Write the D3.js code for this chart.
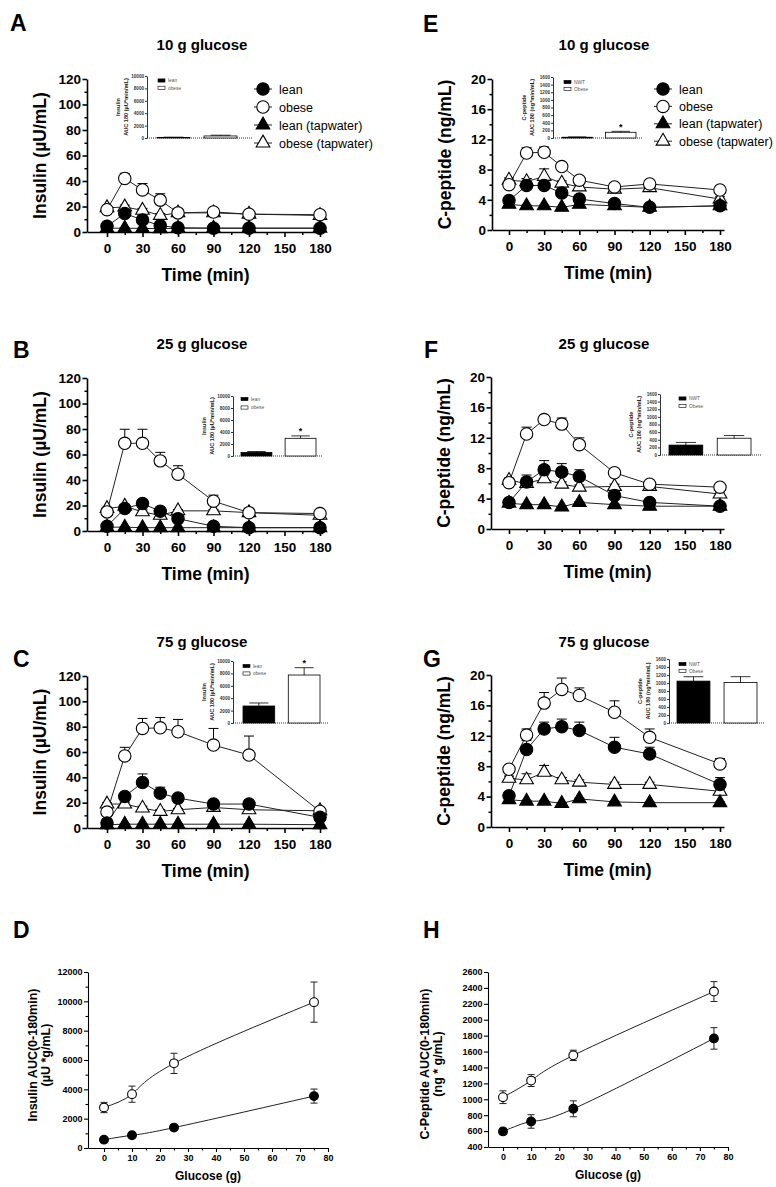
<!DOCTYPE html>
<html><head><meta charset="utf-8">
<script src="https://cdn.jsdelivr.net/npm/d3@7"></script>
<style>body{margin:0;background:#fff;} svg{display:block;}</style>
</head><body><svg id="c" width="776" height="1187"></svg>
<script>
// ---------- DATA ----------
const times = [0, 15, 30, 45, 60, 90, 120, 180];
const timeTicks = [0, 30, 60, 90, 120, 150, 180];
const timeMinorTicks = [15, 45, 75, 105, 135, 165];
const legendLabels = ["lean", "obese", "lean (tapwater)", "obese (tapwater)"];
const insulinInsetCats = ["lean", "obese"];
const cpepInsetCats = ["NWT", "Obese"];
const glucoseDoses = [0, 10, 25, 75];
const glucoseTicks = [0, 10, 20, 30, 40, 50, 60, 70, 80];

// A: insulin, 10 g
const insA_lean = [4.5, 14.5, 9.5, 5.0, 3.3, 3.0, 3.0, 3.0];
const insA_leanErr = [0.8, 2.0, 2.0, 1.0, 0.5, 0.5, 0.5, 0.5];
const insA_obese = [17.5, 42, 33, 25, 15, 15.7, 14, 13.6];
const insA_obeseErr = [2, 4, 5, 5, 2, 2, 1.5, 1.5];
const insA_leanTap = [3, 3, 2.8, 2.6, 3, 3, 3, 3];
const insA_leanTapErr = [0.3, 0.3, 0.3, 0.3, 0.3, 0.3, 0.3, 0.3];
const insA_obeseTap = [19, 19.6, 17, 13, 15, 15, 14, 13];
const insA_obeseTapErr = [1, 1.5, 1.5, 1.5, 1, 1, 1, 1];
const insA_auc = [100, 330];
const insA_aucErr = [30, 120];

// B: insulin, 25 g
const insB_lean = [3.7, 17.6, 21.5, 15.5, 9.7, 3.7, 2.6, 2.6];
const insB_leanErr = [1, 3, 3, 2, 2, 1, 0.5, 0.5];
const insB_obese = [15, 68.8, 68.8, 55, 44.6, 23.4, 14.4, 13.7];
const insB_obeseErr = [2, 11, 11, 6.7, 6.6, 4.7, 1.5, 1.5];
const insB_leanTap = [3, 3, 2.6, 2.6, 2.6, 2.6, 2.6, 2.6];
const insB_leanTapErr = [0.3, 0.3, 0.3, 0.3, 0.3, 0.3, 0.3, 0.3];
const insB_obeseTap = [17.6, 19.4, 15, 12.3, 15.8, 15.8, 14.4, 12.3];
const insB_obeseTapErr = [1, 1.5, 1.5, 1.5, 1, 1, 1, 1];
const insB_auc = [600, 2950];
const insB_aucErr = [150, 400];

// C: insulin, 75 g
const insC_lean = [3.9, 24.9, 35.9, 27.5, 23.6, 18.9, 18.9, 8.4];
const insC_leanErr = [1, 2.5, 6.8, 4.7, 2, 2, 2, 1.5];
const insC_obese = [12.6, 56.9, 78.6, 79.1, 76, 65.5, 57.6, 13.1];
const insC_obeseErr = [2, 6.8, 7.9, 8.1, 9.7, 13.1, 15, 2];
const insC_leanTap = [2.6, 3, 3, 3, 3, 3, 3, 2.6];
const insC_leanTapErr = [0.3, 0.3, 0.3, 0.3, 0.3, 0.3, 0.3, 0.3];
const insC_obeseTap = [18.9, 18.9, 15.7, 13.1, 14.4, 16.2, 14.4, 13.6];
const insC_obeseTapErr = [1, 1.5, 1.5, 1.5, 1, 1, 1, 1];
const insC_auc = [2740, 7740];
const insC_aucErr = [490, 1180];

// E: C-peptide, 10 g
const cpE_lean = [3.9, 5.9, 5.9, 4.9, 4.1, 3.5, 3.0, 3.2];
const cpE_leanErr = [0.3, 0.9, 0.7, 0.4, 0.3, 0.3, 0.2, 0.2];
const cpE_obese = [6.0, 10.2, 10.3, 8.4, 6.6, 5.7, 6.1, 5.3];
const cpE_obeseErr = [0.4, 0.7, 0.7, 0.4, 0.4, 0.3, 0.3, 0.3];
const cpE_leanTap = [3.4, 3.2, 3.2, 3.0, 3.4, 3.2, 3.0, 3.2];
const cpE_leanTapErr = [0.1, 0.1, 0.1, 0.1, 0.1, 0.1, 0.1, 0.1];
const cpE_obeseTap = [6.6, 6.4, 7.1, 6.2, 5.7, 5.4, 5.6, 4.1];
const cpE_obeseTapErr = [0.3, 0.4, 1.0, 0.3, 0.3, 0.3, 0.3, 0.3];
const cpE_auc = [20, 150];
const cpE_aucErr = [8, 25];

// F: C-peptide, 25 g
const cpF_lean = [3.5, 6.2, 7.8, 7.5, 6.9, 4.4, 3.5, 3.0];
const cpF_leanErr = [0.3, 0.9, 1.2, 1.1, 0.9, 0.4, 0.3, 0.2];
const cpF_obese = [6.1, 12.5, 14.4, 13.8, 11.1, 7.4, 5.9, 5.5];
const cpF_obeseErr = [0.3, 0.9, 0.3, 0.8, 0.9, 0.3, 0.3, 0.3];
const cpF_leanTap = [3.4, 3.2, 3.2, 2.9, 3.5, 3.2, 3.0, 3.0];
const cpF_leanTapErr = [0.1, 0.1, 0.1, 0.1, 0.1, 0.1, 0.1, 0.1];
const cpF_obeseTap = [6.4, 6.0, 6.6, 5.9, 5.5, 5.6, 5.6, 4.6];
const cpF_obeseTapErr = [0.3, 0.4, 0.5, 0.3, 0.3, 0.3, 0.3, 0.3];
const cpF_auc = [260, 440];
const cpF_aucErr = [70, 70];

// G: C-peptide, 75 g
const cpG_lean = [4.1, 10.2, 12.9, 13.2, 12.7, 10.5, 9.6, 5.6];
const cpG_leanErr = [0.3, 1.2, 0.9, 1.0, 1.1, 1.3, 0.9, 0.9];
const cpG_obese = [7.6, 12.1, 16.3, 18.1, 17.3, 15.1, 11.8, 8.3];
const cpG_obeseErr = [0.4, 0.8, 1.4, 1.5, 1.0, 1.5, 1.1, 0.7];
const cpG_leanTap = [3.6, 3.4, 3.4, 3.1, 3.7, 3.3, 3.2, 3.2];
const cpG_leanTapErr = [0.1, 0.1, 0.1, 0.1, 0.1, 0.1, 0.1, 0.1];
const cpG_obeseTap = [6.4, 6.2, 7.2, 6.2, 5.9, 5.6, 5.6, 4.7];
const cpG_obeseTapErr = [0.3, 0.8, 0.9, 0.3, 0.3, 0.3, 0.3, 0.3];
const cpG_auc = [1047, 1013];
const cpG_aucErr = [110, 145];

// D: insulin AUC vs glucose dose
const aucIns_lean = [570, 870, 1390, 3540];
const aucIns_leanErr = [100, 100, 100, 480];
const aucIns_obese = [2760, 3670, 5770, 9945];
const aucIns_obeseErr = [350, 550, 690, 1370];

// H: C-peptide AUC vs glucose dose
const aucCp_lean = [596, 721, 880, 1765];
const aucCp_leanErr = [40, 85, 100, 135];
const aucCp_obese = [1026, 1235, 1552, 2354];
const aucCp_obeseErr = [80, 75, 65, 125];

// ---------- DRAWING ----------
const FONT = "'Liberation Sans', Arial, Helvetica, sans-serif";
const svg = d3.select("#c").attr("font-family", FONT);
const intFmt = d3.format("d");

function styleAxis(sel, sw, fs, bold) {
  sel.attr("font-family", FONT).attr("font-size", fs);
  sel.select(".domain").attr("stroke", "#000").attr("stroke-width", sw);
  sel.selectAll(".tick line").attr("stroke", "#000").attr("stroke-width", sw);
  sel.selectAll(".tick text").attr("fill", "#000").attr("font-weight", bold ? "bold" : "normal");
}

function marker(g, type, cx, cy, r) {
  const filled = type[0] === "f";
  if (type[1] === "c") {
    g.append("circle").attr("cx", cx).attr("cy", cy).attr("r", r)
      .attr("fill", filled ? "#000" : "#fff").attr("stroke", "#000").attr("stroke-width", 1.1);
  } else {
    g.append("path").attr("d", d3.symbol().type(d3.symbolTriangle).size(r * r * 2.1)())
      .attr("transform", `translate(${cx},${cy})`)
      .attr("fill", filled ? "#000" : "#fff").attr("stroke", "#000").attr("stroke-width", 1.1);
  }
}

function letter(t, x, y) {
  svg.append("text").attr("x", x).attr("y", y).text(t)
    .attr("font-size", 23).attr("font-weight", "bold").attr("fill", "#000");
}

function inset(q) {
  const g = svg.append("g");
  const y = d3.scaleLinear().domain([0, q.max]).range([q.bottom, q.top]);
  const xb = d3.scaleBand().domain(q.cats).range([q.barL, q.barR]).paddingInner(0.3).paddingOuter(0);
  g.append("line").attr("x1", q.axisX).attr("x2", q.baseEnd).attr("y1", q.bottom).attr("y2", q.bottom)
    .attr("stroke", "#000").attr("stroke-width", 0.8).attr("stroke-dasharray", "1,1");
  q.cats.forEach((c, i) => {
    g.append("rect").attr("x", xb(c)).attr("width", xb.bandwidth())
      .attr("y", y(q.vals[i])).attr("height", y(0) - y(q.vals[i]))
      .attr("fill", i === 0 ? "#000" : "#fff").attr("stroke", "#000").attr("stroke-width", 0.8);
    const cx = xb(c) + xb.bandwidth() / 2, top = y(q.vals[i] + q.errs[i]);
    const cw = xb.bandwidth() * 0.3;
    g.append("line").attr("x1", cx).attr("x2", cx).attr("y1", y(q.vals[i])).attr("y2", top).attr("stroke", "#000").attr("stroke-width", 0.8);
    g.append("line").attr("x1", cx - cw).attr("x2", cx + cw).attr("y1", top).attr("y2", top).attr("stroke", "#000").attr("stroke-width", 0.8);
    if (i === 1 && q.star) {
      g.append("text").attr("x", cx).attr("y", top - 1.5).attr("text-anchor", "middle").text("*")
        .attr("font-size", 9).attr("font-weight", "bold");
    }
  });
  const ga = g.append("g").attr("transform", `translate(${q.axisX},0)`)
    .call(d3.axisLeft(y).tickValues(d3.range(0, q.max + 1, q.step)).tickFormat(intFmt).tickSize(2).tickPadding(1).tickSizeOuter(0));
  styleAxis(ga, 0.8, 4.6, true);
  ga.selectAll(".tick text").attr("fill", "#333");
  const cy = (q.top + q.bottom) / 2;
  [q.t1, q.t2].forEach((t, i) => {
    g.append("text").attr("transform", `translate(${q.axisX - 27 + i * 7.5},${cy}) rotate(-90)`)
      .attr("text-anchor", "middle").attr("font-size", 5.6).attr("font-weight", "bold").attr("fill", "#222").text(t);
  });
  q.cats.forEach((c, i) => {
    const ly = q.ly + i * q.ldy;
    g.append("rect").attr("x", q.lx).attr("y", ly - 1.6).attr("width", 7).attr("height", 3.2)
      .attr("fill", i === 0 ? "#000" : "#fff").attr("stroke", "#000").attr("stroke-width", 0.6);
    g.append("text").attr("x", q.lx + 10).attr("y", ly + 1.7).attr("font-size", 4.8).attr("fill", "#555").text(c);
  });
}

function timePanel(p) {
  const g = svg.append("g");
  const x = d3.scaleLinear().domain([0, 180]).range([p.x0, p.x180]);
  const xEnd = p.x180 + 4;
  const xa = d3.scaleLinear().domain([x.invert(p.axisX), x.invert(xEnd)]).range([p.axisX, xEnd]);
  const y = d3.scaleLinear().domain([0, p.yMax]).range([p.y0, p.yTop]);

  const mx = g.append("g").attr("transform", `translate(0,${p.y0})`)
    .call(d3.axisBottom(xa).tickValues(timeMinorTicks).tickSize(3).tickFormat(""));
  mx.select(".domain").remove();
  mx.selectAll("line").attr("stroke", "#000").attr("stroke-width", 1.5);
  const my = g.append("g").attr("transform", `translate(${p.axisX},0)`)
    .call(d3.axisLeft(y).tickValues(d3.range(p.yStep / 2, p.yMax, p.yStep)).tickSize(2.5).tickFormat(""));
  my.select(".domain").remove();
  my.selectAll("line").attr("stroke", "#000").attr("stroke-width", 1.5);

  const gx = g.append("g").attr("transform", `translate(0,${p.y0})`)
    .call(d3.axisBottom(xa).tickValues(timeTicks).tickSize(5).tickPadding(6).tickSizeOuter(0));
  styleAxis(gx, 1.6, 13.5, true);
  const gy = g.append("g").attr("transform", `translate(${p.axisX},0)`)
    .call(d3.axisLeft(y).tickValues(d3.range(0, p.yMax + 1e-9, p.yStep)).tickFormat(intFmt).tickSize(4.5).tickPadding(1.5).tickSizeOuter(0));
  styleAxis(gy, 1.6, 13.5, true);

  g.append("text").attr("x", p.titleX).attr("y", p.titleY).attr("text-anchor", "middle")
    .attr("font-size", 15).attr("font-weight", "bold").text(p.title);
  g.append("text").attr("x", (p.axisX + xEnd) / 2).attr("y", p.y0 + 49).attr("text-anchor", "middle")
    .attr("font-size", 17.5).attr("font-weight", "bold").text("Time (min)");
  g.append("text").attr("transform", `translate(${p.axisX - 41},${(p.y0 + p.yTop) / 2}) rotate(-90)`)
    .attr("text-anchor", "middle").attr("font-size", 17.5).attr("font-weight", "bold").text(p.ylabel);

  const line = d3.line().x((d, i) => x(times[i])).y(d => y(d));
  p.series.forEach(s => {
    g.append("path").datum(s.vals).attr("d", line).attr("fill", "none")
      .attr("stroke", "#222").attr("stroke-width", 1);
  });
  p.series.forEach(s => {
    s.vals.forEach((v, i) => {
      const e = s.err[i], cx = x(times[i]), t = y(v + e);
      g.append("line").attr("x1", cx).attr("x2", cx).attr("y1", y(v)).attr("y2", t).attr("stroke", "#000").attr("stroke-width", 1);
      g.append("line").attr("x1", cx - 5).attr("x2", cx + 5).attr("y1", t).attr("y2", t).attr("stroke", "#000").attr("stroke-width", 1);
    });
  });
  p.series.forEach(s => {
    s.vals.forEach((v, i) => marker(g, s.type, x(times[i]), y(v), 6.2));
  });

  if (p.legend) {
    const types = ["fc", "oc", "ft", "ot"];
    legendLabels.forEach((lab, i) => {
      const ly = p.legend.y + i * p.legend.dy;
      g.append("line").attr("x1", p.legend.x - 9).attr("x2", p.legend.x + 9).attr("y1", ly).attr("y2", ly)
        .attr("stroke", "#222").attr("stroke-width", 1);
      marker(g, types[i], p.legend.x, ly, 6.2);
      g.append("text").attr("x", p.legend.x + 16).attr("y", ly + 4.5).attr("font-size", 12.5).text(lab);
    });
  }
  inset(p.inset);
  letter(p.letter[0], p.letter[1], p.letter[2]);
}

function aucPanel(p) {
  const g = svg.append("g");
  const x = d3.scaleLinear().domain([0, 80]).range([p.x0, p.x80]);
  const xa = d3.scaleLinear().domain([x.invert(p.axisX), 80]).range([p.axisX, p.x80]);
  const y = d3.scaleLinear().domain([p.yMin, p.yMax]).range([p.y0, p.yTop]);

  const mx = g.append("g").attr("transform", `translate(0,${p.y0})`)
    .call(d3.axisBottom(xa).tickValues(d3.range(5, 80, 10)).tickSize(2.5).tickFormat(""));
  mx.select(".domain").remove();
  mx.selectAll("line").attr("stroke", "#000").attr("stroke-width", 1.1);
  if (p.yMinor) {
    const my = g.append("g").attr("transform", `translate(${p.axisX},0)`)
      .call(d3.axisLeft(y).tickValues(d3.range(p.yMin + p.yMinor, p.yMax, p.yStep)).tickSize(2.5).tickFormat(""));
    my.select(".domain").remove();
    my.selectAll("line").attr("stroke", "#000").attr("stroke-width", 1.1);
  }
  const gx = g.append("g").attr("transform", `translate(0,${p.y0})`)
    .call(d3.axisBottom(xa).tickValues(glucoseTicks).tickFormat(intFmt).tickSize(4).tickPadding(3).tickSizeOuter(0));
  styleAxis(gx, 1.1, 9, true);
  const gy = g.append("g").attr("transform", `translate(${p.axisX},0)`)
    .call(d3.axisLeft(y).tickValues(d3.range(p.yMin, p.yMax + 1e-9, p.yStep)).tickFormat(intFmt).tickSize(4).tickPadding(1.5).tickSizeOuter(0));
  styleAxis(gy, 1.1, 9, true);

  g.append("text").attr("x", (p.axisX + p.x80) / 2).attr("y", p.y0 + 32).attr("text-anchor", "middle")
    .attr("font-size", 12).attr("font-weight", "bold").text("Glucose (g)");
  [p.lab1, p.lab2].forEach((t, i) => {
    g.append("text").attr("transform", `translate(${p.labX[i]},${p.labY}) rotate(-90)`)
      .attr("text-anchor", "middle").attr("font-size", 12.5).attr("font-weight", "bold").text(t);
  });

  const line = d3.line().curve(d3.curveNatural).x((d, i) => x(glucoseDoses[i])).y(d => y(d));
  p.series.forEach(s => {
    g.append("path").datum(s.vals).attr("d", line).attr("fill", "none").attr("stroke", "#222").attr("stroke-width", 1);
  });
  p.series.forEach(s => {
    s.vals.forEach((v, i) => {
      const cx = x(glucoseDoses[i]), e = s.err[i];
      const t = y(v + e), b = y(v - e);
      g.append("line").attr("x1", cx).attr("x2", cx).attr("y1", b).attr("y2", t).attr("stroke", "#222").attr("stroke-width", 1);
      [t, b].forEach(yy => g.append("line").attr("x1", cx - 3.5).attr("x2", cx + 3.5).attr("y1", yy).attr("y2", yy).attr("stroke", "#222").attr("stroke-width", 1));
    });
  });
  p.series.forEach(s => {
    s.vals.forEach((v, i) => marker(g, s.type, x(glucoseDoses[i]), y(v), 4.4));
  });
  letter(p.letter[0], p.letter[1], p.letter[2]);
}

function series4(l, le, o, oe, lt, lte, ot, ote) {
  return [
    { vals: ot, err: ote, type: "ot" },
    { vals: lt, err: lte, type: "ft" },
    { vals: o, err: oe, type: "oc" },
    { vals: l, err: le, type: "fc" }
  ];
}

const insTitle1 = "Insulin", insTitle2 = "AUC 180 (µU*min/mL)";
const cpTitle1 = "C-peptide", cpTitle2 = "AUC 180 (ng*min/mL)";

timePanel({
  axisX: 87, x0: 107, x180: 320, y0: 232, yTop: 79, yMax: 120, yStep: 20,
  title: "10 g glucose", titleX: 202, titleY: 50, ylabel: "Insulin (µU/mL)",
  series: series4(insA_lean, insA_leanErr, insA_obese, insA_obeseErr, insA_leanTap, insA_leanTapErr, insA_obeseTap, insA_obeseTapErr),
  legend: { x: 263, y: 89, dy: 18 },
  inset: { axisX: 147, top: 76, bottom: 138, barL: 157, barR: 237, baseEnd: 253, max: 10000, step: 2000,
    cats: insulinInsetCats, vals: insA_auc, errs: insA_aucErr, star: false, lx: 158, ly: 80.5, ldy: 7.3, t1: insTitle1, t2: insTitle2 },
  letter: ["A", 10, 31]
});
timePanel({
  axisX: 87, x0: 107, x180: 320, y0: 531, yTop: 378, yMax: 120, yStep: 20,
  title: "25 g glucose", titleX: 202, titleY: 349, ylabel: "Insulin (µU/mL)",
  series: series4(insB_lean, insB_leanErr, insB_obese, insB_obeseErr, insB_leanTap, insB_leanTapErr, insB_obeseTap, insB_obeseTapErr),
  inset: { axisX: 233, top: 396, bottom: 456, barL: 241, barR: 316, baseEnd: 323, max: 10000, step: 2000,
    cats: insulinInsetCats, vals: insB_auc, errs: insB_aucErr, star: true, lx: 241, ly: 399, ldy: 8.5, t1: insTitle1, t2: insTitle2 },
  letter: ["B", 13, 358]
});
timePanel({
  axisX: 87, x0: 107, x180: 320, y0: 828, yTop: 676, yMax: 120, yStep: 20,
  title: "75 g glucose", titleX: 202, titleY: 647, ylabel: "Insulin (µU/mL)",
  series: series4(insC_lean, insC_leanErr, insC_obese, insC_obeseErr, insC_leanTap, insC_leanTapErr, insC_obeseTap, insC_obeseTapErr),
  inset: { axisX: 233, top: 661, bottom: 723, barL: 243, barR: 320, baseEnd: 328, max: 10000, step: 2000,
    cats: insulinInsetCats, vals: insC_auc, errs: insC_aucErr, star: true, lx: 243, ly: 666, ldy: 7.5, t1: insTitle1, t2: insTitle2 },
  letter: ["C", 13, 667]
});

timePanel({
  axisX: 492, x0: 509, x180: 720, y0: 230, yTop: 79, yMax: 20, yStep: 4,
  title: "10 g glucose", titleX: 604, titleY: 50, ylabel: "C-peptide (ng/mL)",
  series: series4(cpE_lean, cpE_leanErr, cpE_obese, cpE_obeseErr, cpE_leanTap, cpE_leanTapErr, cpE_obeseTap, cpE_obeseTapErr),
  legend: { x: 663, y: 89, dy: 17.4 },
  inset: { axisX: 553, top: 77, bottom: 138, barL: 562, barR: 636, baseEnd: 643, max: 1600, step: 200,
    cats: cpepInsetCats, vals: cpE_auc, errs: cpE_aucErr, star: true, lx: 564, ly: 82, ldy: 7, t1: cpTitle1, t2: cpTitle2 },
  letter: ["E", 423, 32]
});
timePanel({
  axisX: 491, x0: 509, x180: 720, y0: 529, yTop: 377, yMax: 20, yStep: 4,
  title: "25 g glucose", titleX: 604, titleY: 349, ylabel: "C-peptide (ng/mL)",
  series: series4(cpF_lean, cpF_leanErr, cpF_obese, cpF_obeseErr, cpF_leanTap, cpF_leanTapErr, cpF_obeseTap, cpF_obeseTapErr),
  inset: { axisX: 660, top: 394, bottom: 455, barL: 669, barR: 751, baseEnd: 761, max: 1600, step: 200,
    cats: cpepInsetCats, vals: cpF_auc, errs: cpF_aucErr, star: false, lx: 679, ly: 398.5, ldy: 7.5, t1: cpTitle1, t2: cpTitle2 },
  letter: ["F", 424, 358]
});
timePanel({
  axisX: 491, x0: 509, x180: 720, y0: 827, yTop: 675, yMax: 20, yStep: 4,
  title: "75 g glucose", titleX: 604, titleY: 647, ylabel: "C-peptide (ng/mL)",
  series: series4(cpG_lean, cpG_leanErr, cpG_obese, cpG_obeseErr, cpG_leanTap, cpG_leanTapErr, cpG_obeseTap, cpG_obeseTapErr),
  inset: { axisX: 669, top: 659, bottom: 723, barL: 677, barR: 757, baseEnd: 764, max: 1600, step: 200,
    cats: cpepInsetCats, vals: cpG_auc, errs: cpG_aucErr, star: false, lx: 679, ly: 664, ldy: 7, t1: cpTitle1, t2: cpTitle2 },
  letter: ["G", 423, 667]
});

aucPanel({
  axisX: 88, x0: 104, x80: 328, y0: 1148, yTop: 972, yMin: 0, yMax: 12000, yStep: 2000, yMinor: 1000,
  lab1: "Insulin AUC(0-180min)", lab2: "(µU *g/mL)", labX: [37, 50], labY: 1055,
  series: [{ vals: aucIns_obese, err: aucIns_obeseErr, type: "oc" }, { vals: aucIns_lean, err: aucIns_leanErr, type: "fc" }],
  letter: ["D", 13, 938]
});
aucPanel({
  axisX: 488, x0: 503, x80: 728, y0: 1147, yTop: 972, yMin: 400, yMax: 2600, yStep: 200, yMinor: 0,
  lab1: "C-Peptide AUC(0-180min)", lab2: "(ng * g/mL)", labX: [429, 442], labY: 1064,
  series: [{ vals: aucCp_obese, err: aucCp_obeseErr, type: "oc" }, { vals: aucCp_lean, err: aucCp_leanErr, type: "fc" }],
  letter: ["H", 423, 938]
});
</script>
</body></html>
